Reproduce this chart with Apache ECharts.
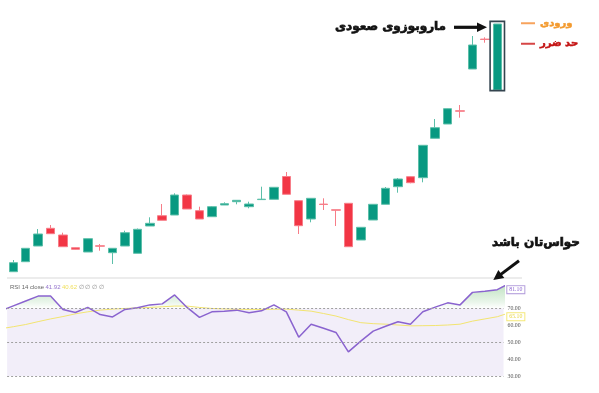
<!DOCTYPE html>
<html><head><meta charset="utf-8">
<script src="https://cdn.jsdelivr.net/npm/echarts@6/dist/echarts.min.js"></script>
<style>html,body{margin:0;padding:0;background:#fff}#c{width:599px;height:393px}</style>
</head><body><div id="c"></div>
<script>
// ---- data ----
const categories = ['1','2','3','4','5','6','7','8','9','10','11','12','13','14','15','16','17','18','19','20',
  '21','22','23','24','25','26','27','28','29','30','31','32','33','34','35','36','37','38','39','40'];
const openP  = [28.3, 38.3, 54, 71.7, 65, 52.3, 48, 54.2, 47.3, 54, 46.7, 74, 84.3, 85, 105, 89.3, 83.3, 95, 98.3, 93.3,
  100.4, 100.7, 123.5, 99.3, 81, 95.9, 90.2, 96.7, 60, 80, 95.7, 113.3, 123.3, 122.3, 161.7, 176, 189.2, 231, 260.9, 210];
const closeP = [37.3, 51.7, 66, 66.3, 53.3, 50.7, 61.3, 53.8, 51.7, 67.3, 70.7, 76.7, 79.7, 105, 91, 81, 93.3, 96.3, 99.7, 96,
  100.8, 112.7, 105.7, 74.3, 101.7, 95.5, 89.8, 53.3, 72.7, 95.7, 111.7, 121, 117.3, 154.7, 172.3, 191.3, 188.8, 255, 260.5, 276];
const lowP   = [28.3, 38.3, 54, 66.3, 53, 50.5, 48, 49.3, 36, 54, 46.7, 74, 79.7, 85, 91, 81, 83.3, 95, 95.7, 91.7,
  100.4, 100.7, 105.7, 66, 77.7, 90, 74, 53.3, 60, 80, 95.7, 107.3, 116.7, 117.7, 161.7, 176, 182.3, 231, 257.3, 210];
const highP  = [40, 52, 71, 75, 67.3, 52.5, 61.3, 56, 51.7, 69.3, 71.5, 82.7, 96, 106.7, 105.5, 93.3, 94, 97.7, 99.7, 98.3,
  113.3, 112.7, 128, 99.3, 101.7, 101.7, 90.2, 96.7, 72.7, 95.7, 113, 122, 123.5, 154.7, 181, 191.5, 195, 264, 262.7, 276];
// RSI: bar positions 0..41 (bar 0 and 41 lie just outside the visible window)
const rsiValues = [68.6, 71.5, 74.4, 77.3, 77.3, 69.4, 67.6, 70.6, 66.4, 65.0, 69.4, 70.4, 72.1, 72.7, 78.0, 70.6, 64.7, 68.0, 68.4, 69.0,
  67.4, 68.6, 72.1, 68.0, 53.0, 60.7, 58.3, 55.8, 44.3, 50.7, 56.6, 59.5, 62.1, 60.7, 68.0, 70.8, 73.3, 72.1, 79.5, 80.2, 81.1, 85.0];
const rsiMaValues = [58.0, 59.2, 60.5, 62.2, 63.8, 65.2, 66.8, 68.0, 69.0, 69.6, 70.0, 70.3, 70.6, 71.0, 71.4, 71.4, 70.6, 70.0, 69.7, 69.5,
  69.4, 69.4, 69.5, 69.6, 69.0, 68.4, 67.0, 65.5, 63.4, 61.6, 61.0, 60.7, 60.2, 59.7, 59.8, 59.9, 60.2, 60.7, 62.5, 63.8, 65.1, 67.5];
const rsiTicks = [30, 40, 50, 60, 70];
const rsiLevels = [70, 50, 30];
const rsiLegendValues = ['41.92', '40.62'];
const lastIdx = 40;

// ---- build ----
const GREEN = '#089981', RED = '#f23645';
const candleData = openP.map((o, i) => [o, closeP[i], lowP[i], highP[i]]);
const rsiData = rsiValues.map((v, i) => [i, v]);
const maData = rsiMaValues.map((v, i) => [i, v]);
const OB = 70;
const fx = [], fy = [];
rsiValues.forEach((v, i) => {
  if (i > 0) {
    const pv = rsiValues[i - 1];
    if ((pv - OB) * (v - OB) < 0) { const t = (OB - pv) / (v - pv); fx.push(i - 1 + t); fy.push(OB); }
  }
  fx.push(i); fy.push(Math.max(v, OB));
});
const overData = fx.map((x, k) => [x, fy[k]]);

const chart = echarts.init(document.getElementById('c'), null, {renderer: 'canvas'});
const GL = 7.1, GR = 95.5;

function arrow(id, x1, y1, x2, y2, w, hl, hw) {
  const dx = x2 - x1, dy = y2 - y1, L = Math.hypot(dx, dy), ux = dx / L, uy = dy / L;
  const bx = x2 - ux * hl, by = y2 - uy * hl, px = -uy, py = ux;
  return [
    {type: 'line', id: id + 'l', shape: {x1: x1, y1: y1, x2: bx + ux, y2: by + uy}, style: {stroke: '#111', lineWidth: w}, z: 50},
    {type: 'polygon', id: id + 'h', shape: {points: [[x2, y2], [bx + px * hw, by + py * hw], [bx - px * hw, by - py * hw]]}, style: {fill: '#111'}, z: 50}
  ];
}

const graphics = [
  {type: 'line', id: 'sep', shape: {x1: 7, y1: 278, x2: 522, y2: 278}, style: {stroke: '#e6e6e6', lineWidth: 1.5}},
  {type: 'text', id: 'rsileg', x: 10, y: 287.5, style: {
    text: '{a|RSI 14 close} {b|' + rsiLegendValues[0] + '} {c|' + rsiLegendValues[1] + '} {d|∅ ∅ ∅ ∅}',
    textVerticalAlign: 'middle', fontSize: 6, fontFamily: 'Liberation Sans Narrow',
    rich: {a: {fill: '#666', fontSize: 6}, b: {fill: '#9575cd', fontSize: 6}, c: {fill: '#f0e060', fontSize: 6}, d: {fill: '#888', fontSize: 6}}
  }},
  {type: 'text', id: 't1', x: 446, y: 27, style: {text: 'ماروبوزوی صعودی', textAlign: 'right', textVerticalAlign: 'middle',
    fontSize: 12, fontWeight: 'bold', fontFamily: 'DejaVu Sans', fill: '#111', stroke: '#111', lineWidth: 0.7}, z: 50},
  {type: 'text', id: 't2', x: 580, y: 243, style: {text: 'حواس‌تان باشد', textAlign: 'right', textVerticalAlign: 'middle',
    fontSize: 12, fontWeight: 'bold', fontFamily: 'DejaVu Sans', fill: '#111', stroke: '#111', lineWidth: 0.7}, z: 50}
].concat(arrow('a1', 454, 27.3, 487, 27.3, 3.2, 10, 4.8)).concat(arrow('a2', 519, 260.7, 493.3, 280, 3, 10, 5));

const option = {
  animation: false,
  backgroundColor: '#fff',
  legend: {
    orient: 'vertical', left: 516, top: 13, itemWidth: 14, itemHeight: 2, icon: 'rect', itemGap: 10,
    textStyle: {fontFamily: 'DejaVu Sans', fontWeight: 'bold', fontSize: 10},
    data: [{name: 'ورودی', textStyle: {color: '#f39a2e', textBorderColor: '#f39a2e', textBorderWidth: 0.5}},
           {name: 'حد ضرر', textStyle: {color: '#c41414', textBorderColor: '#c41414', textBorderWidth: 0.5}}]
  },
  grid: [
    {left: GL, right: GR, top: 0, height: 278},
    {left: GL, right: GR, top: 278, bottom: 0}
  ],
  xAxis: [
    {type: 'category', gridIndex: 0, data: categories, show: false, boundaryGap: true},
    {type: 'value', gridIndex: 1, min: 0.5, max: 40.5, show: false}
  ],
  yAxis: [
    {type: 'value', gridIndex: 0, min: 22, max: 300, show: false},
    {type: 'value', gridIndex: 1, min: 20, max: 88, interval: 10, position: 'right',
      axisLine: {show: false}, axisTick: {show: false}, splitLine: {show: false},
      axisLabel: {margin: 4, fontSize: 5.8, color: '#555', fontFamily: 'Liberation Sans Narrow',
        formatter: v => rsiTicks.indexOf(v) >= 0 ? v.toFixed(2) : ''}}
  ],
  series: [
    {type: 'candlestick', name: 'price', xAxisIndex: 0, yAxisIndex: 0, data: candleData, barWidth: 9,
      itemStyle: {color: GREEN, color0: RED, borderColor: '#5cbfa9', borderColor0: '#f77d88', borderWidth: 1}},
    {type: 'line', name: 'ورودی', data: [], color: '#f7a35c', xAxisIndex: 0, yAxisIndex: 0},
    {type: 'line', name: 'حد ضرر', data: [], color: '#d64545', xAxisIndex: 0, yAxisIndex: 0},
    {type: 'line', name: 'obFill', xAxisIndex: 1, yAxisIndex: 1, data: overData, symbol: 'none',
      lineStyle: {width: 0, opacity: 0}, silent: true, z: 2,
      areaStyle: {opacity: 1, color: {type: 'linear', x: 0, y: 287, x2: 0, y2: 308.4, global: true,
        colorStops: [{offset: 0, color: 'rgba(76,175,80,0.32)'}, {offset: 0.7, color: 'rgba(76,175,80,0.12)'}, {offset: 1, color: 'rgba(76,175,80,0)'}]}}},
    {type: 'line', name: 'rsiMa', xAxisIndex: 1, yAxisIndex: 1, data: maData, symbol: 'none',
      lineStyle: {color: '#f2e470', width: 1}, z: 3,
      markPoint: {symbol: 'rect', symbolSize: 0, silent: true, data: [{coord: [lastIdx, rsiMaValues[lastIdx]]}],
        label: {show: true, position: 'right', distance: 10, formatter: rsiMaValues[lastIdx].toFixed(2),
          color: '#e8d640', fontSize: 5.8, fontFamily: 'Liberation Sans Narrow', backgroundColor: '#fff',
          borderColor: '#f5e97a', borderWidth: 1, padding: [1, 2, 0, 2]}}},
    {type: 'line', name: 'rsi', xAxisIndex: 1, yAxisIndex: 1, data: rsiData, symbol: 'none',
      lineStyle: {color: '#8a63cf', width: 1.5}, z: 4,
      markArea: {silent: true, itemStyle: {color: 'rgba(126,87,194,0.1)'}, data: [[{yAxis: 30}, {yAxis: 70}]]},
      markLine: {silent: true, symbol: 'none', label: {show: false},
        lineStyle: {color: '#a0a0a0', type: [2, 2], width: 1}, data: rsiLevels.map(l => ({yAxis: l}))},
      markPoint: {symbol: 'rect', symbolSize: 0, silent: true, data: [{coord: [lastIdx, rsiValues[lastIdx]]}],
        label: {show: true, position: 'right', distance: 10, formatter: rsiValues[lastIdx].toFixed(2),
          color: '#8a63cf', fontSize: 5.8, fontFamily: 'Liberation Sans Narrow', backgroundColor: '#fff',
          borderColor: '#b39ddb', borderWidth: 1, padding: [1, 2, 0, 2]}}}
  ],
  graphic: graphics
};
chart.setOption(option);
// box around the last candle, derived from its data via the axes
const li = categories.length - 1;
const pTop = chart.convertToPixel({gridIndex: 0}, [li, highP[li]]);
const pBot = chart.convertToPixel({gridIndex: 0}, [li, lowP[li]]);
chart.setOption({graphic: graphics.concat([{type: 'rect', id: 'box',
  shape: {x: pTop[0] - 7.2, y: pTop[1] - 2.6, width: 14.4, height: pBot[1] - pTop[1] + 3.2},
  style: {fill: 'none', stroke: '#34444f', lineWidth: 1.6}, z: 40}])});
</script></body></html>
